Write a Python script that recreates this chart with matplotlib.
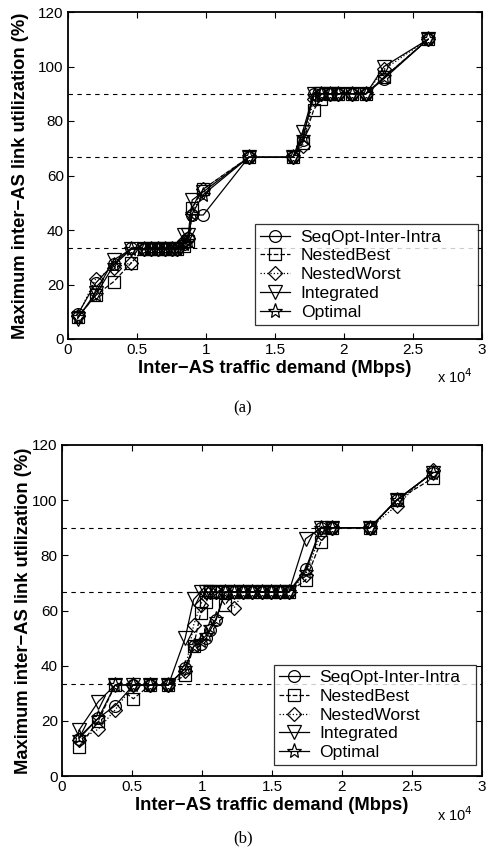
import matplotlib
matplotlib.use('Agg')
import matplotlib.pyplot as plt
from matplotlib.ticker import FuncFormatter

plt.rcParams['font.family'] = ['Liberation Sans', 'DejaVu Sans']

# Datos panel (a): demanda inter-AS (Mbps) y utilizacion maxima (%)
demanda_a = [700, 2000, 3300, 4600, 5500, 6000, 6500, 7000, 7500, 7900, 8400, 8700,
             9000, 9800, 13100, 16300, 17000, 17800, 18300, 19000, 19600, 20600,
             21600, 22900, 26100]
seqopt_a = [9, 20.5, 27.5, 33.5, 33, 33, 33, 33, 33, 33, 35, 37, 45.5, 45.5, 66.7,
            66.7, 73, 90, 90, 90, 90, 90, 90, 95.5, 110]
nested_best_a = [8, 16, 21, 28, 33, 33, 33, 33, 33, 33, 34, 36, 48, 55, 66.7, 66.7,
                 72, 84, 88, 90, 90, 90, 90, 96, 110]
nested_worst_a = [8.5, 22, 26, 28, 33, 33, 33, 33, 33, 33, 36, 37, 46, 55, 66.7,
                  66.7, 71, 88, 90, 90, 90, 90, 90, 99, 110]
integrated_a = [7.5, 17, 29, 33, 33, 33, 33, 33, 33, 33, 38, 38, 51, 54, 66.7, 66.7,
                76, 90, 90, 90, 90, 90, 90, 100, 110]
optimal_a = [8, 16, 27, 33, 33, 33, 33, 33, 33, 33, 35, 36, 46, 53, 66.7, 66.7, 74,
             89, 90, 90, 90, 90, 90, 96, 110]

# Datos panel (b)
demanda_b = [1200, 2600, 3800, 5100, 6300, 7600, 8800, 9400, 9900, 10300, 10600,
             11000, 11650, 12300, 12950, 13600, 14250, 14900, 15550, 16200, 17400,
             18500, 19300, 22000, 23900, 26500]
seqopt_b = [13.5, 21, 25.5, 33, 33, 33, 39, 47, 48, 50, 53, 56.5, 66.7, 66.7, 66.7,
            66.7, 66.7, 66.7, 66.7, 66.7, 75, 90, 90, 90, 100, 110]
nested_best_b = [10.5, 20, 33, 28, 33, 33, 36.5, 47, 59, 63, 66.7, 66.7, 62, 66.7,
                 66.7, 66.7, 66.7, 66.7, 66.7, 66.7, 71, 85, 90, 90, 100, 108]
nested_worst_b = [13, 17, 24, 33, 33, 33, 38, 54.7, 62, 66.7, 66.7, 66.7, 66.7, 61,
                  66.7, 66.7, 66.7, 66.7, 66.7, 66.7, 73, 88, 90, 90, 98, 111]
integrated_b = [16.5, 27, 33, 33, 33, 33, 50, 64, 66.7, 66.7, 66.7, 66.7, 66.7, 66.7,
                66.7, 66.7, 66.7, 66.7, 66.7, 66.7, 86, 90, 90, 90, 100, 110]
optimal_b = [14, 21, 33, 33, 33, 33, 39, 47, 49, 51, 54, 57, 66.7, 66.7, 66.7, 66.7,
             66.7, 66.7, 66.7, 66.7, 74, 90, 90, 90, 100, 110]

umbrales = [100 / 3, 200 / 3, 90]
nombres = ['SeqOpt-Inter-Intra', 'NestedBest', 'NestedWorst', 'Integrated', 'Optimal']
estilos = [('o', '-', 8.5), ('s', '--', 8), ('D', ':', 7.5), ('v', '-', 10), ('*', '-', 11)]


def dibujar_panel(ax, demanda, series, bbox, ypos):
    for y in umbrales:
        ax.axhline(y, color='black', linestyle=(0, (4, 4)), linewidth=0.8)
    for nombre, valores, (mk, ls, ms) in zip(nombres, series, estilos):
        ax.plot(demanda, valores, color='black', linestyle=ls, linewidth=0.9,
                marker=mk, markersize=ms, markerfacecolor='none',
                markeredgecolor='black', markeredgewidth=0.9, label=nombre)
    ax.set_xlim(0, 30000)
    ax.set_ylim(0, 120)
    ax.set_xticks([0, 5000, 10000, 15000, 20000, 25000, 30000])
    ax.set_yticks([0, 20, 40, 60, 80, 100, 120])
    ax.xaxis.set_major_formatter(FuncFormatter(lambda v, p: f'{v / 1e4:g}'))
    ax.tick_params(direction='in', top=True, right=True, labelsize=11,
                   length=4, width=0.8, pad=3)
    for s in ax.spines.values():
        s.set_linewidth(1.3)
    ax.set_xlabel('Inter\u2212AS traffic demand (Mbps)', fontsize=13.2,
                  fontweight='bold', labelpad=2)
    ax.set_ylabel('Maximum inter\u2212AS link utilization (%)', fontsize=13.2,
                  fontweight='bold')
    ax.text(0.978, ypos, r'x 10$^4$', transform=ax.transAxes, fontsize=10.5,
            ha='right', va='center')
    leg = ax.legend(loc='lower left', bbox_to_anchor=bbox, mode='expand',
                    fontsize=12.6, frameon=True, fancybox=False,
                    edgecolor='black', handlelength=1.7, borderpad=0.3,
                    labelspacing=0.2, handletextpad=0.6, borderaxespad=0)
    leg.get_frame().set_linewidth(0.9)


fig = plt.figure(figsize=(4.88, 8.61), dpi=100)
ax1 = fig.add_axes([68 / 488, 1 - 339 / 861, 414 / 488, 327 / 861])
ax2 = fig.add_axes([62 / 488, 1 - 776 / 861, 420 / 488, 331 / 861])

dibujar_panel(ax1, demanda_a,
              [seqopt_a, nested_best_a, nested_worst_a, integrated_a, optimal_a],
              (0.452, 0.043, 0.538, 0.3), -0.116)
dibujar_panel(ax2, demanda_b,
              [seqopt_b, nested_best_b, nested_worst_b, integrated_b, optimal_b],
              (0.505, 0.032, 0.481, 0.3), -0.118)

ax1.yaxis.set_label_coords(-0.094, 0.5)
ax2.yaxis.set_label_coords(-0.072, 0.5)

fig.text(243 / 488, 1 - 408 / 861, '(a)', ha='center', va='center',
         fontsize=12, family='Liberation Serif')
fig.text(243 / 488, 1 - 838 / 861, '(b)', ha='center', va='center',
         fontsize=12, family='Liberation Serif')

fig.savefig('out.png', dpi=100)
plt.close()
